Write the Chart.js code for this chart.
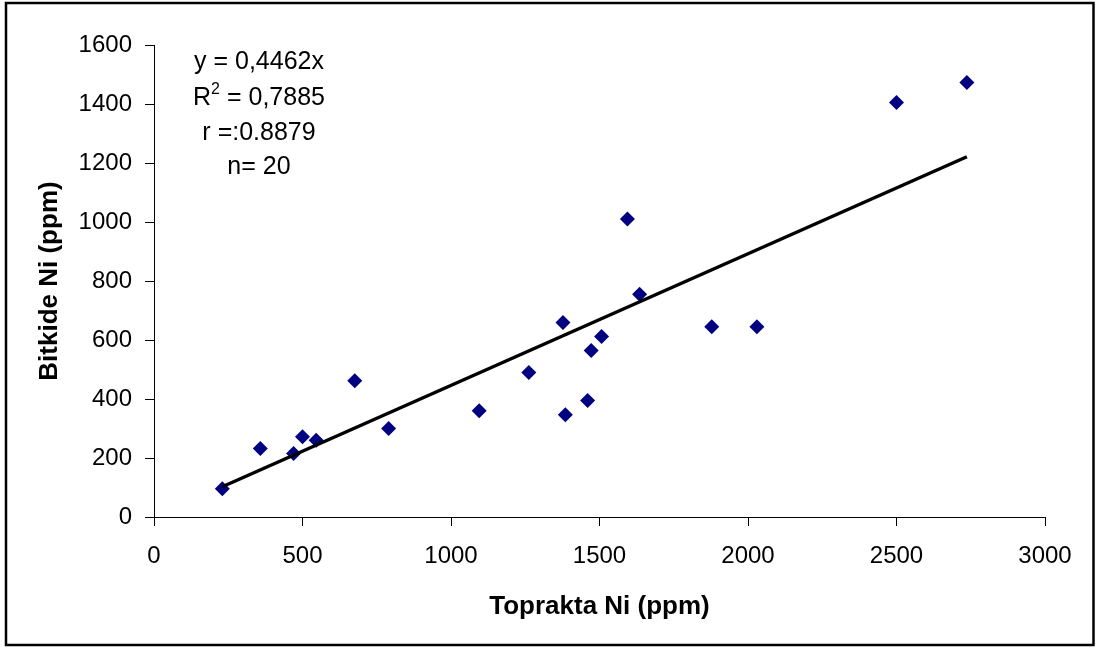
<!DOCTYPE html>
<html>
<head>
<meta charset="utf-8">
<title>Bitkide Ni - Toprakta Ni</title>
<script src="https://cdn.jsdelivr.net/npm/chart.js@4/dist/chart.umd.min.js"></script>
<style>
    body { margin: 0; background: #fff; }
    canvas { display: block; }
</style>
</head>
<body>
<canvas id="chart" width="1099" height="649"></canvas>
<script>
// toprakta Ni (x) ve bitkide Ni (y), ppm
const soilNi = [230, 358, 470, 500, 546, 676, 790, 1095, 1262, 1377,
                1385, 1460, 1472, 1507, 1594, 1635, 1878, 2030, 2500, 2737];
const plantNi = [96, 232, 215, 272, 260, 462, 300, 360, 490, 659,
                 347, 395, 564, 612, 1010, 755, 645, 645, 1405, 1473];

// trend çizgisi (y = 0,4462x), sıfırdan geçen doğrusal
const slope = 0.4462;
const trendX = [230, 2737];

const xTicks = [0, 500, 1000, 1500, 2000, 2500, 3000];
const yTicks = [0, 200, 400, 600, 800, 1000, 1200, 1400, 1600];

const statLines = ['y = 0,4462x', 'R2 = 0,7885', 'r =:0.8879', 'n= 20'];

const FONT = '"Liberation Sans", Arial, sans-serif';

// dış çerçeve ve istatistik yazıları
const extrasPlugin = {
    id: 'extras',
    afterDraw(chart) {
        const ctx = chart.ctx;
        ctx.save();
        ctx.strokeStyle = '#000';
        ctx.lineWidth = 2.5;
        ctx.strokeRect(6, 3, 1087.5, 642);

        ctx.fillStyle = '#000';
        ctx.textBaseline = 'middle';
        ctx.textAlign = 'left';
        const cx = 259;
        const rows = [62, 98, 133, 167];
        ctx.font = '25px ' + FONT;
        statLines.forEach((txt, i) => {
            if (i === 1) {
                // R kare, üst simge ile
                const big = '25px ' + FONT, small = '16px ' + FONT;
                ctx.font = big;
                const wR = ctx.measureText('R').width;
                const wRest = ctx.measureText(' = 0,7885').width;
                ctx.font = small;
                const w2 = ctx.measureText('2').width;
                let x = cx - (wR + w2 + wRest) / 2;
                ctx.font = big;
                ctx.fillText('R', x, rows[i]);
                ctx.font = small;
                ctx.fillText('2', x + wR, rows[i] - 8);
                ctx.font = big;
                ctx.fillText(' = 0,7885', x + wR + w2, rows[i]);
            } else {
                const w = ctx.measureText(txt).width;
                ctx.fillText(txt, cx - w / 2, rows[i]);
            }
        });
        ctx.restore();
    }
};

const ctx = document.getElementById('chart').getContext('2d');
new Chart(ctx, {
    data: {
        datasets: [{
            type: 'line',
            label: 'trend',
            data: trendX.map(x => ({ x: x, y: slope * x })),
            borderColor: '#000',
            borderWidth: 3.5,
            pointRadius: 0,
            fill: false,
            order: 0
        }, {
            type: 'scatter',
            label: 'Ni',
            data: soilNi.map((x, i) => ({ x: x, y: plantNi[i] })),
            pointStyle: 'rectRot',
            pointRadius: 7.5,
            backgroundColor: '#000080',
            borderColor: '#000080',
            borderWidth: 0,
            order: 1
        }]
    },
    options: {
        responsive: false,
        animation: false,
        layout: { padding: { left: 10, top: 45, right: 54, bottom: 10 } },
        plugins: {
            legend: { display: false },
            tooltip: { enabled: false }
        },
        scales: {
            x: {
                type: 'linear',
                min: 0,
                max: 3000,
                afterBuildTicks: s => { s.ticks = xTicks.map(v => ({ value: v })); },
                afterFit: s => { s.height = 122; },
                grid: { drawOnChartArea: false, drawTicks: true, tickLength: 9, color: '#000', lineWidth: 1 },
                border: { display: true, color: '#000', width: 1 },
                ticks: {
                    color: '#000',
                    font: { family: FONT, size: 24 },
                    padding: 16,
                    maxRotation: 0,
                    callback: v => String(v)
                },
                title: {
                    display: true,
                    text: 'Toprakta Ni (ppm)',
                    color: '#000',
                    font: { family: FONT, size: 26, weight: 'bold' },
                    padding: { top: 0, bottom: 17 }
                }
            },
            y: {
                type: 'linear',
                min: 0,
                max: 1600,
                afterBuildTicks: s => { s.ticks = yTicks.map(v => ({ value: v })); },
                afterFit: s => { s.width = 144; },
                grid: { drawOnChartArea: false, drawTicks: true, tickLength: 9, color: '#000', lineWidth: 1 },
                border: { display: true, color: '#000', width: 1 },
                ticks: {
                    color: '#000',
                    font: { family: FONT, size: 24 },
                    padding: 13,
                    callback: v => String(v)
                },
                title: {
                    display: true,
                    text: 'Bitkide Ni (ppm)',
                    color: '#000',
                    font: { family: FONT, size: 26, weight: 'bold' },
                    padding: { top: 24, bottom: 0 }
                }
            }
        }
    },
    plugins: [extrasPlugin]
});
</script>
</body>
</html>
